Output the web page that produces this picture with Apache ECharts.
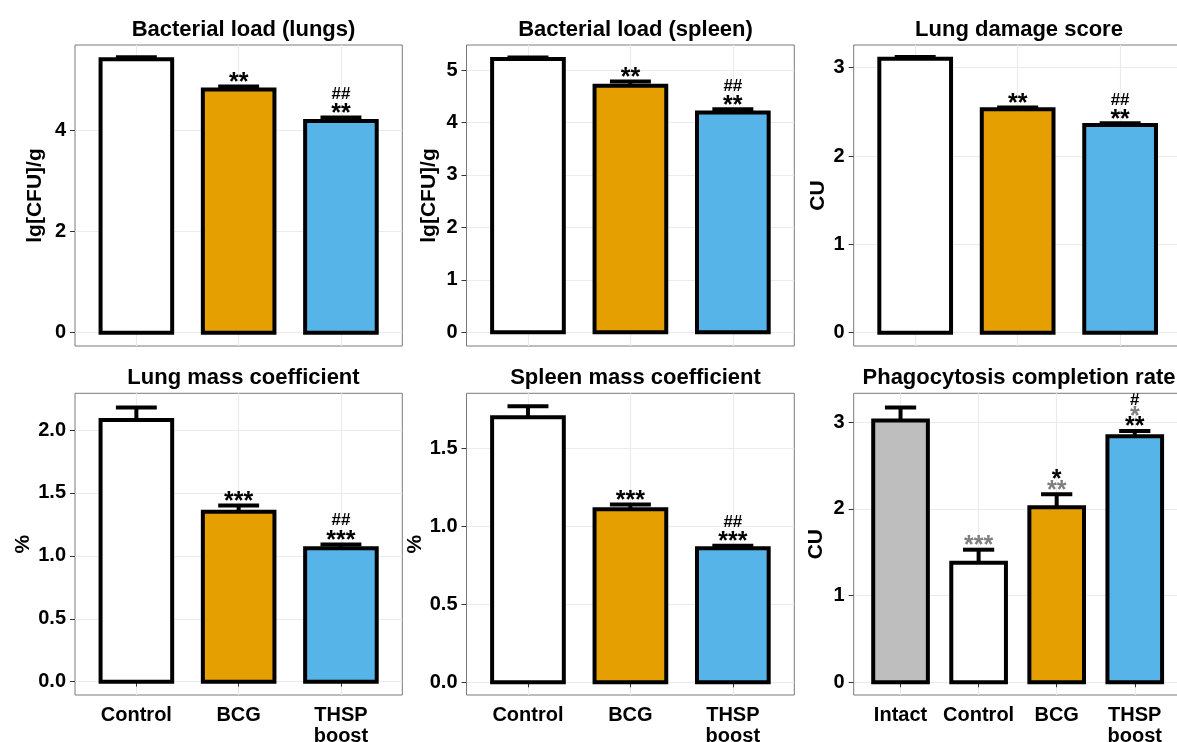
<!DOCTYPE html>
<html>
<head>
<meta charset="UTF-8">
<title>Bacterial load and organ indices</title>
<script src="https://cdn.jsdelivr.net/npm/echarts@6/dist/echarts.min.js"></script>
<style>
  html, body { margin: 0; padding: 0; background: #fff; }
  #main { width: 1177px; height: 742px; }
</style>
</head>
<body>
<div id="main"></div>
<script>
// groups on the x axis
const groups3 = ['Control', 'BCG', 'THSP\nboost'];
const groups4 = ['Intact', 'Control', 'BCG', 'THSP\nboost'];
const groupFill = {Intact: '#BEBEBE', Control: '#FFFFFF', BCG: '#E69F00', 'THSP\nboost': '#56B4E9'};

// values (mean, upper error)
const lungLoadMean = [5.40, 4.80, 4.18];
const lungLoadErr = [0.04, 0.06, 0.07];
const spleenLoadMean = [5.21, 4.70, 4.19];
const spleenLoadErr = [0.03, 0.08, 0.06];
const damageMean = [3.10, 2.53, 2.35];
const damageErr = [0.02, 0.02, 0.02];
const lungMassMean = [2.08, 1.35, 1.06];
const lungMassErr = [0.10, 0.05, 0.03];
const spleenMassMean = [1.70, 1.11, 0.86];
const spleenMassErr = [0.07, 0.03, 0.015];
const phagoMean = [3.02, 1.38, 2.02, 2.84];
const phagoErr = [0.15, 0.15, 0.15, 0.06];

// significance marks per bar, bottom-up: [marks, compared with]
const lungLoadSig = [[], [['**', 'control']], [['**', 'control'], ['##', 'bcg']]];
const spleenLoadSig = [[], [['**', 'control']], [['**', 'control'], ['##', 'bcg']]];
const damageSig = [[], [['**', 'control']], [['**', 'control'], ['##', 'bcg']]];
const lungMassSig = [[], [['***', 'control']], [['***', 'control'], ['##', 'bcg']]];
const spleenMassSig = [[], [['***', 'control']], [['***', 'control'], ['##', 'bcg']]];
const phagoSig = [[], [['***', 'intact']], [['**', 'intact'], ['*', 'control']],
                  [['**', 'control'], ['*', 'intact'], ['#', 'bcg']]];

// y ticks and axis ranges
const lungLoadTicks = [0, 2, 4];
const spleenLoadTicks = [0, 1, 2, 3, 4, 5];
const damageTicks = [0, 1, 2, 3];
const lungMassTicks = [0, 0.5, 1, 1.5, 2];
const spleenMassTicks = [0, 0.5, 1, 1.5];
const phagoTicks = [0, 1, 2, 3];
const lungLoadRange = [-0.262, 5.68];
const spleenLoadRange = [-0.261, 5.477];
const damageRange = [-0.151, 3.257];
const lungMassRange = [-0.106, 2.292];
const spleenMassRange = [-0.081, 1.853];
const phagoRange = [-0.147, 3.335];

const panels = [
    {title: 'Bacterial load (lungs)', yName: 'lg[CFU]/g', groups: groups3, mean: lungLoadMean, err: lungLoadErr,
     sig: lungLoadSig, ticks: lungLoadTicks, range: lungLoadRange, digits: 0},
    {title: 'Bacterial load (spleen)', yName: 'lg[CFU]/g', groups: groups3, mean: spleenLoadMean, err: spleenLoadErr,
     sig: spleenLoadSig, ticks: spleenLoadTicks, range: spleenLoadRange, digits: 0},
    {title: 'Lung damage score', yName: 'CU', groups: groups3, mean: damageMean, err: damageErr,
     sig: damageSig, ticks: damageTicks, range: damageRange, digits: 0},
    {title: 'Lung mass coefficient', yName: '%', groups: groups3, mean: lungMassMean, err: lungMassErr,
     sig: lungMassSig, ticks: lungMassTicks, range: lungMassRange, digits: 1},
    {title: 'Spleen mass coefficient', yName: '%', groups: groups3, mean: spleenMassMean, err: spleenMassErr,
     sig: spleenMassSig, ticks: spleenMassTicks, range: spleenMassRange, digits: 1},
    {title: 'Phagocytosis completion rate', yName: 'CU', groups: groups4, mean: phagoMean, err: phagoErr,
     sig: phagoSig, ticks: phagoTicks, range: phagoRange, digits: 0},
];

// layout (px)
const cols = [{left: 75, width: 327.3}, {left: 466.5, width: 327.8}, {left: 853.7, width: 327.9}];
const rows = [{top: 45, height: 301}, {top: 393.3, height: 301.7}];
const titleX = [238.5, 630.5, 1014];
const titleTop = [14, 362];
const nameGaps = [29, 27, 25, 41, 30, 27];
const hashStep = [14, 14, 14, 15, 15, 11];

const FONT = '"Liberation Sans", Arial, sans-serif';
const BAR_HALF = 0.35;
const CAP_HALF = 0.2;
const markColor = {control: '#000000', intact: '#7F7F7F', bcg: '#000000'};

function makeRender(p, idx) {
    return function (params, api) {
        let i = params.dataIndex;
        let x = api.value(0), m = api.value(1), e = api.value(2);
        let tl = api.coord([x - BAR_HALF, m]);
        let br = api.coord([x + BAR_HALF, 0]);
        let base = api.coord([x, m]);
        let tip = api.coord([x, m + e]);
        let cl = api.coord([x - CAP_HALF, m + e]);
        let cr = api.coord([x + CAP_HALF, m + e]);
        let kids = [
            {type: 'rect', shape: {x: tl[0], y: tl[1], width: br[0] - tl[0], height: br[1] - tl[1]},
             style: {fill: groupFill[p.groups[i]], stroke: '#000', lineWidth: 4}},
            {type: 'line', shape: {x1: base[0], y1: base[1], x2: tip[0], y2: tip[1]},
             style: {stroke: '#000', lineWidth: 4}},
            {type: 'line', shape: {x1: cl[0], y1: cl[1], x2: cr[0], y2: cr[1]},
             style: {stroke: '#000', lineWidth: 4}},
        ];
        // significance marks stacked above the cap
        let y = tip[1] - 9;
        p.sig[i].forEach((s, k) => {
            let isHash = s[0].charAt(0) === '#';
            if (k > 0) y -= isHash ? hashStep[idx] : 10.5;
            let size = isHash ? 17 : 25;
            kids.push({
                type: 'text',
                x: tip[0],
                y: isHash ? y : y + 0.22 * size,
                style: {
                    text: s[0], fill: markColor[s[1]],
                    font: 'bold ' + size + 'px ' + FONT,
                    align: 'center', verticalAlign: 'middle'
                }
            });
        });
        return {type: 'group', children: kids};
    };
}

let option = {animation: false, backgroundColor: '#fff', title: [], grid: [], xAxis: [], yAxis: [], series: []};

panels.forEach((p, idx) => {
    let col = cols[idx % 3], row = rows[Math.floor(idx / 3)];
    let bottomRow = idx >= 3;
    let xTicks = p.groups.map((g, k) => k + 1);
    option.title.push({
        text: p.title, left: titleX[idx % 3], top: titleTop[Math.floor(idx / 3)], textAlign: 'center',
        textStyle: {fontFamily: FONT, fontSize: 22, fontWeight: 'bold', color: '#000'}
    });
    option.grid.push({
        left: col.left, top: row.top, width: col.width, height: row.height,
        show: true, borderColor: '#7a7a7a', borderWidth: 1, backgroundColor: '#fff',
        containLabel: false, outerBoundsMode: 'none'
    });
    option.xAxis.push({
        type: 'value', gridIndex: idx, min: 0.4, max: p.groups.length + 0.6,
        axisLine: {show: false},
        axisTick: {show: bottomRow, customValues: xTicks, length: 5, lineStyle: {color: '#333', width: 1}},
        axisLabel: {
            show: bottomRow, customValues: xTicks, margin: 10,
            formatter: v => p.groups[Math.round(v) - 1] || '',
            fontFamily: FONT, fontSize: 20, fontWeight: 'bold', color: '#000', lineHeight: 21
        },
        splitLine: {show: true, lineStyle: {color: '#ebebeb', width: 1.2}}
    });
    option.yAxis.push({
        type: 'value', gridIndex: idx, min: p.range[0], max: p.range[1],
        name: p.yName, nameLocation: 'middle', nameRotate: 90, nameGap: nameGaps[idx],
        nameTextStyle: {fontFamily: FONT, fontSize: 21, fontWeight: 'bold', color: '#000'},
        axisLine: {show: false},
        axisTick: {show: true, customValues: p.ticks, length: 5, lineStyle: {color: '#333', width: 1}},
        axisLabel: {
            customValues: p.ticks, margin: 9,
            formatter: v => v.toFixed(p.digits),
            fontFamily: FONT, fontSize: 20, fontWeight: 'bold', color: '#000'
        },
        splitLine: {show: true, lineStyle: {color: '#ebebeb', width: 1.2}}
    });
    option.series.push({
        type: 'custom', xAxisIndex: idx, yAxisIndex: idx, clip: false,
        renderItem: makeRender(p, idx),
        data: p.mean.map((m, k) => [k + 1, m, p.err[k]])
    });
});

let chart = echarts.init(document.getElementById('main'), null, {renderer: 'canvas'});
chart.setOption(option);
</script>
</body>
</html>
